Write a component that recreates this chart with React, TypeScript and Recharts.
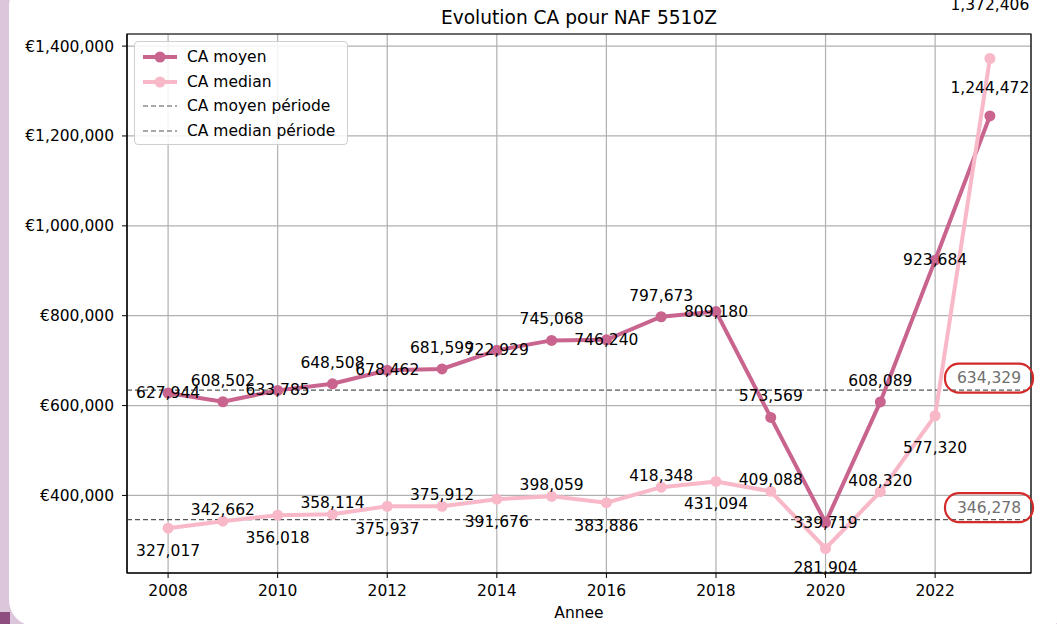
import React from 'react'
import {
  LineChart,
  Line,
  XAxis,
  YAxis,
  CartesianGrid,
  ReferenceLine,
  ReferenceArea,
  LabelList,
  Legend,
} from 'recharts'

const years = [2008, 2009, 2010, 2011, 2012, 2013, 2014, 2015, 2016, 2017, 2018, 2019, 2020, 2021, 2022, 2023]
const caMoyen = [627944, 608502, 633785, 648508, 678462, 681599, 722929, 745068, 746240, 797673, 809180, 573569, 339719, 608089, 923684, 1244472]
const caMedian = [327017, 342662, 356018, 358114, 375937, 375912, 391676, 398059, 383886, 418348, 431094, 409088, 281904, 408320, 577320, 1372406]
const moyenPeriode = 634329
const medianPeriode = 346278
const xTicks = [2008, 2010, 2012, 2014, 2016, 2018, 2020, 2022]
const yTicks = [400000, 600000, 800000, 1000000, 1200000, 1400000]
const xDomain = [2007.25, 2023.75]
const yDomain = [227379, 1426931]

const chartData = years.map((year, i) => ({ year, moyen: caMoyen[i], median: caMedian[i] }))

const FONT = '"DejaVu Sans", sans-serif'
const MOYEN = '#c9648e'
const MEDIAN = '#f8b8c8'
const fmt = (v: number) => v.toLocaleString('en-US')

// matplotlib annotations alternate above / below the point
const moyenOffset = (i: number) => (i === 15 ? -28 : i % 2 ? -21 : 0)
const medianOffset = (i: number) => {
  if (i === 15) return -54
  if (i === 14) return 32
  if (i === 12) return 19
  return i % 2 ? -11 : 23
}

const pointLabel = (offset: (i: number) => number) => (props: any) => {
  const { x, y, value, index } = props
  return (
    <text
      x={x}
      y={y + offset(index)}
      textAnchor="middle"
      dominantBaseline="central"
      fontFamily={FONT}
      fontSize={15.5}
      fill="#000"
    >
      {fmt(value)}
    </text>
  )
}

const periodLabel = (value: number) => (props: any) => {
  const { viewBox } = props
  const cx = viewBox.x + viewBox.width - 42
  const cy = viewBox.y - 12
  return (
    <g>
      <text
        x={cx}
        y={cy}
        textAnchor="middle"
        dominantBaseline="central"
        fontFamily={FONT}
        fontSize={15.5}
        fill="#707070"
      >
        {fmt(value)}
      </text>
      <rect x={cx - 44} y={cy - 14.5} width={88} height={29} rx={14} fill="none" stroke="#d42a2a" strokeWidth={2.2} />
    </g>
  )
}

function LegendBox() {
  const rows = [
    { name: 'CA moyen', color: MOYEN, dashed: false },
    { name: 'CA median', color: MEDIAN, dashed: false },
    { name: 'CA moyen période', color: '#555', dashed: true },
    { name: 'CA median période', color: '#555', dashed: true },
  ]
  return (
    <div
      style={{
        width: 214,
        height: 104,
        background: 'rgba(255,255,255,0.85)',
        border: '1px solid #cfcfcf',
        borderRadius: 4,
        boxSizing: 'border-box',
        padding: '3px 0 0 6px',
        fontFamily: FONT,
        fontSize: 15.5,
        color: '#000',
      }}
    >
      {rows.map((r) => (
        <div key={r.name} style={{ display: 'flex', alignItems: 'center', height: 24.5 }}>
          <svg width={40} height={14} style={{ marginRight: 6 }}>
            {r.dashed ? (
              <line x1={2} x2={36} y1={7} y2={7} stroke={r.color} strokeWidth={1.2} strokeDasharray="5 3" />
            ) : (
              <g>
                <line x1={2} x2={36} y1={7} y2={7} stroke={r.color} strokeWidth={4} />
                <circle cx={19} cy={7} r={5.5} fill={r.color} />
              </g>
            )}
          </svg>
          <span>{r.name}</span>
        </div>
      ))}
    </div>
  )
}

export default function App() {
  return (
    <div style={{ position: 'absolute', left: 0, top: 0, width: 1057, height: 624, overflow: 'hidden', background: '#dbc6db' }}>
      <div style={{ position: 'absolute', left: -8, top: 612, width: 18, height: 18, background: '#8e4f80' }} />
      <div
        style={{
          position: 'absolute',
          left: 9,
          top: -20,
          width: 1062,
          height: 646,
          background: '#fff',
          borderRadius: 26,
        }}
      />
      <div
        style={{
          position: 'absolute',
          left: 127,
          width: 904,
          top: 7,
          textAlign: 'center',
          fontFamily: FONT,
          fontSize: 18.6,
          color: '#000',
        }}
      >
        Evolution CA pour NAF 5510Z
      </div>
      <div style={{ position: 'absolute', left: 0, top: 0 }}>
        <LineChart width={1057} height={624} data={chartData} margin={{ top: 34, right: 26, left: 0, bottom: 21 }}>
          <CartesianGrid stroke="#b0b0b0" strokeWidth={1.2} />
          <XAxis
            dataKey="year"
            type="number"
            domain={xDomain}
            ticks={xTicks}
            allowDataOverflow
            height={30}
            tickSize={5}
            tickMargin={7}
            stroke="#000"
            tick={{ fill: '#000', fontFamily: FONT, fontSize: 15.5 }}
            label={(p: any) => (
              <text
                x={p.viewBox.x + p.viewBox.width / 2}
                y={613}
                textAnchor="middle"
                dominantBaseline="central"
                fontFamily={FONT}
                fontSize={15.5}
                fill="#000"
              >
                Annee
              </text>
            )}
          />
          <YAxis
            type="number"
            domain={yDomain}
            ticks={yTicks}
            allowDataOverflow
            width={127}
            tickSize={5}
            tickMargin={8}
            stroke="#000"
            tickFormatter={(v) => '€' + fmt(v)}
            tick={{ fill: '#000', fontFamily: FONT, fontSize: 15.5 }}
          />
          <ReferenceArea
            x1={xDomain[0]}
            x2={xDomain[1]}
            y1={yDomain[0]}
            y2={yDomain[1]}
            fill="none"
            stroke="#000"
            strokeWidth={1.2}
            ifOverflow="visible"
          />
          <ReferenceLine y={moyenPeriode} stroke="#555" strokeWidth={1.2} strokeDasharray="5 3" label={periodLabel(moyenPeriode)} />
          <ReferenceLine y={medianPeriode} stroke="#555" strokeWidth={1.2} strokeDasharray="5 3" label={periodLabel(medianPeriode)} />
          <Line
            dataKey="moyen"
            type="linear"
            stroke={MOYEN}
            strokeWidth={4}
            dot={{ r: 5.5, fill: MOYEN, stroke: 'none' }}
            isAnimationActive={false}
          >
            <LabelList dataKey="moyen" content={pointLabel(moyenOffset)} />
          </Line>
          <Line
            dataKey="median"
            type="linear"
            stroke={MEDIAN}
            strokeWidth={4}
            dot={{ r: 5.5, fill: MEDIAN, stroke: 'none' }}
            isAnimationActive={false}
          >
            <LabelList dataKey="median" content={pointLabel(medianOffset)} />
          </Line>
          <Legend
            layout="vertical"
            align="center"
            verticalAlign="middle"
            content={() => <LegendBox />}
            wrapperStyle={{ left: 134, top: 41, width: 216, height: 106 }}
          />
        </LineChart>
      </div>
    </div>
  )
}
